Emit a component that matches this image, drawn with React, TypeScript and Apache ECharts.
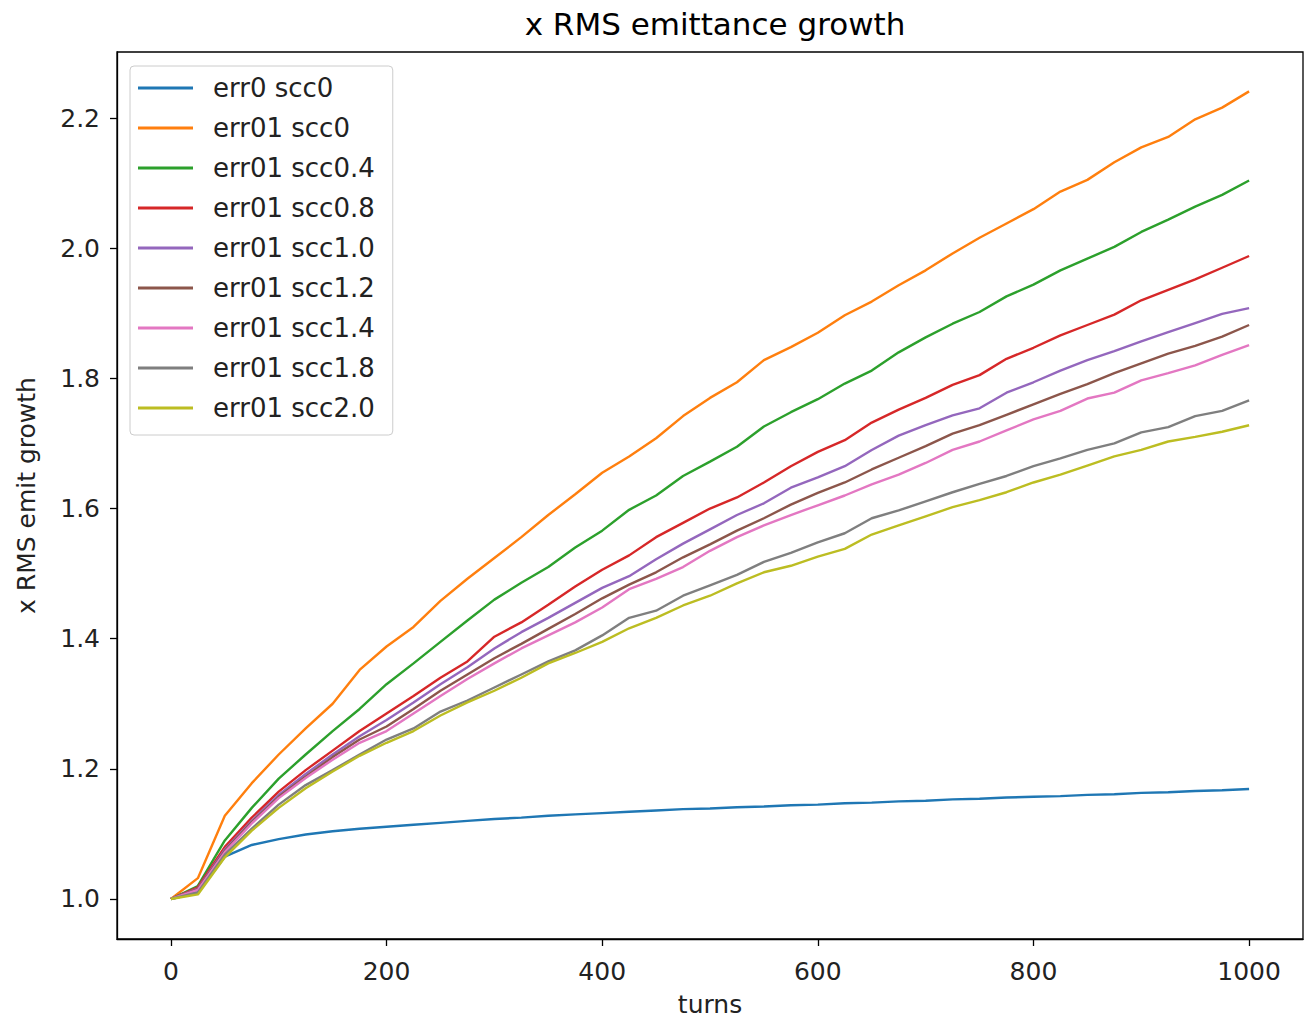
import React, { useEffect, useRef } from "react";
import * as echarts from "echarts";

const turns = [0, 25, 50, 75, 100, 125, 150, 175, 200, 225, 250, 275, 300, 325, 350, 375, 400, 425, 450, 475, 500, 525, 550, 575, 600, 625, 650, 675, 700, 725, 750, 775, 800, 825, 850, 875, 900, 925, 950, 975, 1000];

const err0_scc0 = [1.000, 1.010, 1.065, 1.083, 1.092, 1.099, 1.104, 1.108, 1.111, 1.114, 1.117, 1.120, 1.123, 1.125, 1.128, 1.130, 1.132, 1.134, 1.136, 1.138, 1.139, 1.141, 1.142, 1.144, 1.145, 1.147, 1.148, 1.150, 1.151, 1.153, 1.154, 1.156, 1.157, 1.158, 1.160, 1.161, 1.163, 1.164, 1.166, 1.167, 1.169];
const err01_scc0 = [1.000, 1.032, 1.128, 1.178, 1.222, 1.262, 1.300, 1.352, 1.388, 1.418, 1.458, 1.492, 1.524, 1.556, 1.590, 1.622, 1.655, 1.680, 1.708, 1.742, 1.770, 1.794, 1.828, 1.848, 1.870, 1.897, 1.918, 1.943, 1.966, 1.992, 2.016, 2.038, 2.060, 2.087, 2.105, 2.132, 2.155, 2.171, 2.198, 2.216, 2.241];
const err01_scc04 = [1.000, 1.020, 1.090, 1.140, 1.185, 1.222, 1.258, 1.292, 1.330, 1.362, 1.395, 1.428, 1.460, 1.486, 1.510, 1.540, 1.566, 1.598, 1.620, 1.650, 1.672, 1.695, 1.726, 1.748, 1.768, 1.792, 1.812, 1.840, 1.863, 1.884, 1.902, 1.926, 1.944, 1.966, 1.984, 2.002, 2.025, 2.044, 2.064, 2.082, 2.104];
const err01_scc08 = [1.000, 1.018, 1.080, 1.125, 1.165, 1.198, 1.228, 1.258, 1.285, 1.312, 1.340, 1.365, 1.403, 1.425, 1.452, 1.480, 1.506, 1.528, 1.556, 1.578, 1.600, 1.617, 1.640, 1.665, 1.687, 1.705, 1.732, 1.752, 1.770, 1.790, 1.805, 1.830, 1.847, 1.866, 1.882, 1.898, 1.920, 1.936, 1.952, 1.970, 1.988];
const err01_scc10 = [1.000, 1.016, 1.076, 1.120, 1.160, 1.192, 1.222, 1.250, 1.275, 1.302, 1.330, 1.356, 1.385, 1.410, 1.432, 1.455, 1.478, 1.496, 1.522, 1.546, 1.568, 1.590, 1.608, 1.632, 1.648, 1.665, 1.690, 1.712, 1.728, 1.743, 1.754, 1.778, 1.794, 1.812, 1.828, 1.842, 1.857, 1.871, 1.885, 1.899, 1.908];
const err01_scc12 = [1.000, 1.015, 1.074, 1.118, 1.157, 1.188, 1.218, 1.245, 1.265, 1.292, 1.320, 1.345, 1.370, 1.392, 1.415, 1.438, 1.462, 1.483, 1.502, 1.525, 1.545, 1.566, 1.585, 1.606, 1.624, 1.640, 1.660, 1.678, 1.696, 1.715, 1.728, 1.744, 1.760, 1.776, 1.791, 1.808, 1.823, 1.838, 1.850, 1.864, 1.882];
const err01_scc14 = [1.000, 1.014, 1.072, 1.116, 1.155, 1.186, 1.214, 1.240, 1.258, 1.285, 1.312, 1.338, 1.362, 1.385, 1.405, 1.425, 1.448, 1.476, 1.492, 1.510, 1.535, 1.556, 1.574, 1.590, 1.605, 1.620, 1.637, 1.652, 1.670, 1.690, 1.703, 1.720, 1.737, 1.750, 1.769, 1.778, 1.797, 1.808, 1.820, 1.836, 1.851];
const err01_scc18 = [1.000, 1.010, 1.068, 1.108, 1.145, 1.175, 1.198, 1.222, 1.245, 1.262, 1.288, 1.305, 1.325, 1.345, 1.365, 1.382, 1.405, 1.432, 1.443, 1.466, 1.482, 1.498, 1.518, 1.532, 1.548, 1.562, 1.585, 1.597, 1.611, 1.625, 1.638, 1.650, 1.665, 1.677, 1.690, 1.700, 1.717, 1.725, 1.742, 1.750, 1.766];
const err01_scc20 = [1.000, 1.007, 1.064, 1.105, 1.140, 1.170, 1.196, 1.220, 1.240, 1.258, 1.282, 1.302, 1.320, 1.340, 1.362, 1.378, 1.395, 1.416, 1.432, 1.451, 1.466, 1.485, 1.502, 1.512, 1.526, 1.538, 1.560, 1.574, 1.588, 1.602, 1.613, 1.625, 1.640, 1.652, 1.666, 1.680, 1.690, 1.703, 1.710, 1.718, 1.728];

const seriesNames = ["err0 scc0", "err01 scc0", "err01 scc0.4", "err01 scc0.8", "err01 scc1.0", "err01 scc1.2", "err01 scc1.4", "err01 scc1.8", "err01 scc2.0"];
const seriesValues = [err0_scc0, err01_scc0, err01_scc04, err01_scc08, err01_scc10, err01_scc12, err01_scc14, err01_scc18, err01_scc20];
const colors = ["#1f77b4", "#ff7f0e", "#2ca02c", "#d62728", "#9467bd", "#8c564b", "#e377c2", "#7f7f7f", "#bcbd22"];

const xTicks = [0, 200, 400, 600, 800, 1000];
const yTicks = [1.0, 1.2, 1.4, 1.6, 1.8, 2.0, 2.2];

const FONT = "DejaVu Sans";
const FS = 25;

export default function App() {
  const ref = useRef<HTMLDivElement>(null);
  useEffect(() => {
    if (!ref.current) return;
    const chart = echarts.init(ref.current, null, { renderer: "svg" });
    chart.setOption({
      animation: false,
      backgroundColor: "#ffffff",
      title: {
        text: "x RMS emittance growth",
        left: 710,
        textAlign: "center",
        top: 3,
        textStyle: { fontFamily: FONT, fontSize: 31, fontWeight: "normal", color: "#000" },
      },
      grid: {
        left: 117,
        top: 52,
        right: 2,
        bottom: 80,
        containLabel: false,
        outerBoundsMode: "none",
        show: true,
        borderColor: "#000",
        borderWidth: 1.3,
        backgroundColor: "transparent",
      },
      legend: {
        orient: "vertical",
        left: 130,
        top: 66,
        padding: [2, 18, 7, 8],
        itemGap: 0,
        itemWidth: 55,
        itemHeight: 3,
        icon: "rect",
        backgroundColor: "rgba(255,255,255,0.8)",
        borderColor: "#cccccc",
        borderWidth: 1,
        borderRadius: 4,
        data: seriesNames,
        textStyle: { fontFamily: FONT, fontSize: 26, color: "#222", lineHeight: 40, padding: [0, 0, 0, 15] },
      },
      xAxis: {
        type: "value",
        min: -50,
        max: 1050,
        name: "turns",
        nameLocation: "middle",
        nameGap: 53,
        nameTextStyle: { fontFamily: FONT, fontSize: FS, color: "#222", lineHeight: 24 },
        axisLine: { show: true, onZero: false, lineStyle: { color: "#000", width: 1.3 } },
        axisTick: { show: true, inside: false, length: 7, lineStyle: { color: "#000", width: 1.3 }, customValues: xTicks },
        axisLabel: {
          fontFamily: FONT,
          fontSize: FS,
          color: "#222",
          margin: 20,
          customValues: xTicks,
          formatter: (v: number) => String(v),
        },
        splitLine: { show: false },
      },
      yAxis: {
        type: "value",
        min: 0.9385,
        max: 2.3015,
        name: "x RMS emit growth",
        nameLocation: "middle",
        nameGap: 78,
        nameTextStyle: { fontFamily: FONT, fontSize: FS, color: "#222" },
        axisLine: { show: true, onZero: false, lineStyle: { color: "#000", width: 1.3 } },
        axisTick: { show: true, inside: false, length: 7, lineStyle: { color: "#000", width: 1.3 }, customValues: yTicks },
        axisLabel: {
          fontFamily: FONT,
          fontSize: FS,
          color: "#222",
          margin: 17,
          customValues: yTicks,
          formatter: (v: number) => v.toFixed(1),
        },
        splitLine: { show: false },
      },
      series: seriesNames.map((name, i) => ({
        name,
        type: "line",
        showSymbol: false,
        symbol: "none",
        color: colors[i],
        lineStyle: { color: colors[i], width: 2.4 },
        data: turns.map((t, j) => [t, seriesValues[i][j]]),
        z: 2,
      })),
    });
    return () => chart.dispose();
  }, []);
  return (
    <div
      ref={ref}
      style={{ position: "fixed", left: 0, top: 0, width: 1305, height: 1019, background: "#fff" }}
    />
  );
}
